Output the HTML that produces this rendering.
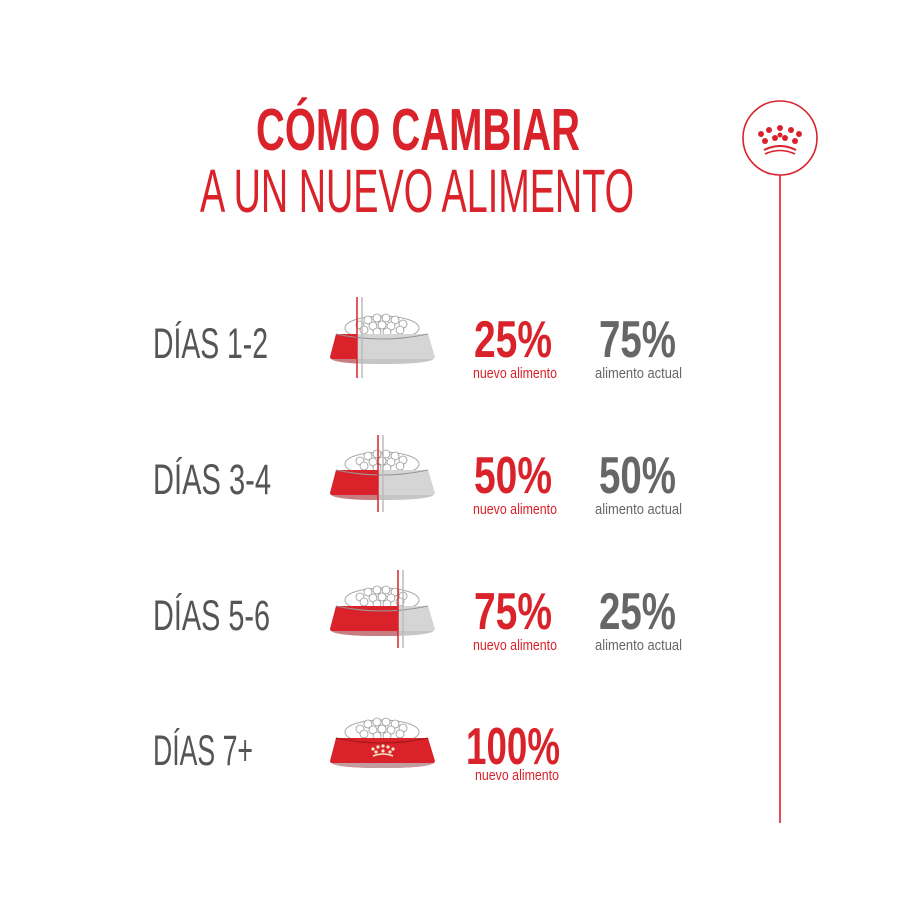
<!DOCTYPE html>
<html><head><meta charset="utf-8"><style>html,body{margin:0;padding:0;background:#fff}svg{display:block}</style></head><body>
<svg width="900" height="900" viewBox="0 0 900 900" xmlns="http://www.w3.org/2000/svg" font-family="Liberation Sans, sans-serif">
<defs>
<clipPath id="body"><path d="M6,24 L98,24 L105,47 Q105,54 52,54 Q0,54 0,47 Z"/></clipPath>
<g id="kib">
<ellipse cx="52" cy="18" rx="37" ry="12" fill="#fff" stroke="#aaa" stroke-width="1"/>
<g fill="#fff" stroke="#999" stroke-width="0.8">
<circle cx="30" cy="15" r="4"/><circle cx="38" cy="10" r="4"/><circle cx="47" cy="8" r="4"/><circle cx="56" cy="8" r="4"/><circle cx="65" cy="10" r="4"/><circle cx="73" cy="14" r="4"/>
<circle cx="34" cy="20" r="4"/><circle cx="43" cy="16" r="4"/><circle cx="52" cy="15" r="4"/><circle cx="61" cy="16" r="4"/><circle cx="70" cy="20" r="4"/>
<circle cx="47" cy="22" r="4"/><circle cx="57" cy="22" r="4"/>
</g>
</g>
</defs>
<!-- right line & logo -->
<circle cx="780" cy="138" r="37" fill="#fff" stroke="#d9222a" stroke-width="1.6"/>
<line x1="780" y1="175" x2="780" y2="823" stroke="#d9222a" stroke-width="1.6"/>
<g fill="#d9222a">
<circle cx="761" cy="134" r="3"/><circle cx="769" cy="130" r="3"/><circle cx="780" cy="128" r="3"/><circle cx="791" cy="130" r="3"/><circle cx="799" cy="134" r="3"/>
<circle cx="765" cy="141" r="3"/><circle cx="775" cy="138" r="3"/><circle cx="785" cy="138" r="3"/><circle cx="795" cy="141" r="3"/><circle cx="780" cy="135" r="2.5"/>
</g>
<path d="M764,150 Q780,142 796,150" fill="none" stroke="#d9222a" stroke-width="2"/>
<path d="M765,154 Q780,147 795,154" fill="none" stroke="#d9222a" stroke-width="1.6"/>
<!-- title -->
<text x="256" y="150" font-size="59" font-weight="bold" fill="#d9222a" textLength="324" lengthAdjust="spacingAndGlyphs">CÓMO CAMBIAR</text>
<text x="200" y="212" font-size="61" fill="#d9222a" textLength="434" lengthAdjust="spacingAndGlyphs">A UN NUEVO ALIMENTO</text>

<!-- rows -->
<g fill="#555" font-size="43">
<text x="153" y="358" textLength="115" lengthAdjust="spacingAndGlyphs">DÍAS 1-2</text>
<text x="153" y="494" textLength="118" lengthAdjust="spacingAndGlyphs">DÍAS 3-4</text>
<text x="153" y="630" textLength="117" lengthAdjust="spacingAndGlyphs">DÍAS 5-6</text>
<text x="153" y="765" textLength="100" lengthAdjust="spacingAndGlyphs">DÍAS 7+</text>
</g>
<g font-size="52" font-weight="bold">
<text x="474" y="357" fill="#d9222a" textLength="78" lengthAdjust="spacingAndGlyphs">25%</text>
<text x="599" y="357" fill="#666" textLength="77" lengthAdjust="spacingAndGlyphs">75%</text>
<text x="474" y="493" fill="#d9222a" textLength="78" lengthAdjust="spacingAndGlyphs">50%</text>
<text x="599" y="493" fill="#666" textLength="77" lengthAdjust="spacingAndGlyphs">50%</text>
<text x="474" y="629" fill="#d9222a" textLength="78" lengthAdjust="spacingAndGlyphs">75%</text>
<text x="599" y="629" fill="#666" textLength="77" lengthAdjust="spacingAndGlyphs">25%</text>
<text x="466" y="764" fill="#d9222a" textLength="94" lengthAdjust="spacingAndGlyphs">100%</text>
</g>
<g font-size="15">
<text x="473" y="378" fill="#d9222a" textLength="84" lengthAdjust="spacingAndGlyphs">nuevo alimento</text>
<text x="595" y="378" fill="#666" textLength="87" lengthAdjust="spacingAndGlyphs">alimento actual</text>
<text x="473" y="514" fill="#d9222a" textLength="84" lengthAdjust="spacingAndGlyphs">nuevo alimento</text>
<text x="595" y="514" fill="#666" textLength="87" lengthAdjust="spacingAndGlyphs">alimento actual</text>
<text x="473" y="650" fill="#d9222a" textLength="84" lengthAdjust="spacingAndGlyphs">nuevo alimento</text>
<text x="595" y="650" fill="#666" textLength="87" lengthAdjust="spacingAndGlyphs">alimento actual</text>
<text x="475" y="780" fill="#d9222a" textLength="84" lengthAdjust="spacingAndGlyphs">nuevo alimento</text>
</g>

<!-- bowls -->
<g transform="translate(330,310)">
<use href="#kib"/>
<g clip-path="url(#body)"><rect x="0" y="0" width="110" height="60" fill="#d5d5d5"/><rect x="0" y="0" width="27" height="60" fill="#d9222a"/><rect x="0" y="49" width="110" height="6" fill="#bbb" opacity="0.6"/></g>
<path d="M6,24 Q52,34 98,24" fill="none" stroke="#999" stroke-width="1"/>
<line x1="27" y1="-13" x2="27" y2="68" stroke="#d9222a" stroke-width="1.5"/>
<line x1="32" y1="-13" x2="32" y2="68" stroke="#bbb" stroke-width="1.5"/>
</g>
<g transform="translate(330,446)">
<use href="#kib"/>
<g clip-path="url(#body)"><rect x="0" y="0" width="110" height="60" fill="#d5d5d5"/><rect x="0" y="0" width="48" height="60" fill="#d9222a"/><rect x="0" y="49" width="110" height="6" fill="#bbb" opacity="0.6"/></g>
<path d="M6,24 Q52,34 98,24" fill="none" stroke="#999" stroke-width="1"/>
<line x1="48" y1="-11" x2="48" y2="66" stroke="#d9222a" stroke-width="1.5"/>
<line x1="53" y1="-11" x2="53" y2="66" stroke="#bbb" stroke-width="1.5"/>
</g>
<g transform="translate(330,582)">
<use href="#kib"/>
<g clip-path="url(#body)"><rect x="0" y="0" width="110" height="60" fill="#d5d5d5"/><rect x="0" y="0" width="68" height="60" fill="#d9222a"/><rect x="0" y="49" width="110" height="6" fill="#bbb" opacity="0.6"/></g>
<path d="M6,24 Q52,34 98,24" fill="none" stroke="#999" stroke-width="1"/>
<line x1="68" y1="-12" x2="68" y2="66" stroke="#d9222a" stroke-width="1.5"/>
<line x1="73" y1="-12" x2="73" y2="66" stroke="#bbb" stroke-width="1.5"/>
</g>
<g transform="translate(330,714)">
<use href="#kib"/>
<g clip-path="url(#body)"><rect x="0" y="0" width="110" height="60" fill="#d9222a"/><rect x="0" y="49" width="110" height="6" fill="#bbb" opacity="0.8"/></g>
<path d="M6,24 Q52,34 98,24" fill="none" stroke="#a01818" stroke-width="1"/>
<g fill="#f3e6c8"><circle cx="43" cy="35" r="1.6"/><circle cx="48" cy="33" r="1.6"/><circle cx="53" cy="32" r="1.6"/><circle cx="58" cy="33" r="1.6"/><circle cx="63" cy="35" r="1.6"/><circle cx="46" cy="38" r="1.6"/><circle cx="53" cy="37" r="1.6"/><circle cx="60" cy="38" r="1.6"/></g>
<path d="M43,42 Q53,38 63,42" fill="none" stroke="#f3e6c8" stroke-width="1.5"/>
</g>
</svg>
</body></html>
